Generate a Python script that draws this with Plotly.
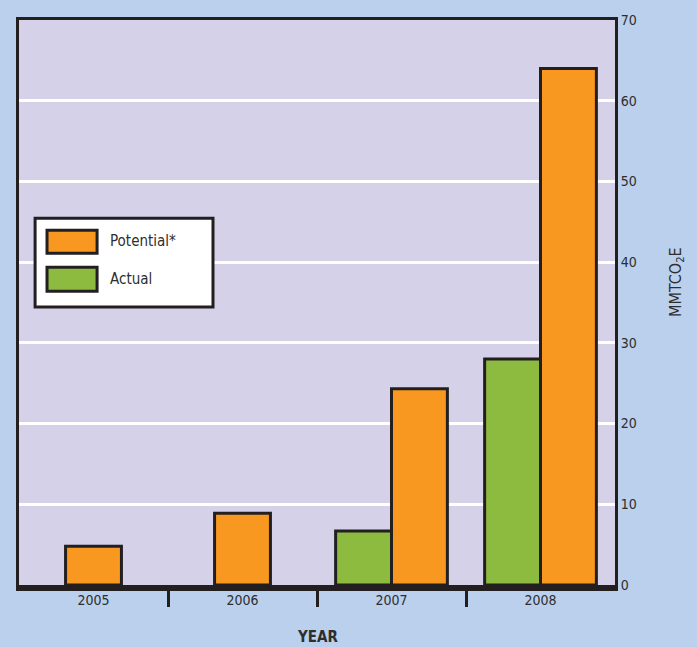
import plotly.graph_objects as go

years = ["2005", "2006", "2007", "2008"]
potential = [4.8, 8.9, 24.3, 64.0]
actual = [None, None, 6.7, 28.0]
series_names = ["Potential*", "Actual"]
y_ticks = [0, 10, 20, 30, 40, 50, 60, 70]

ORANGE = "#f89820"
GREEN = "#8dbb40"
DARK = "#231f20"
TXT = "#2e2e2e"
FONT = "DejaVu Sans Condensed, Liberation Sans Narrow, Arial Narrow, sans-serif"

W = 0.375
pot_off = [-W / 2 if a is None else 0 for a in actual]
act_off = [-W for a in actual]

fig = go.Figure()
fig.add_trace(go.Bar(x=years, y=potential, name=series_names[0], offset=pot_off, width=W,
                     marker=dict(color=ORANGE, line=dict(color=DARK, width=3)), showlegend=False))
fig.add_trace(go.Bar(x=years, y=actual, name=series_names[1], offset=act_off, width=W,
                     marker=dict(color=GREEN, line=dict(color=DARK, width=3)), showlegend=False))
# empty helper trace so the category-boundary axis is drawn
fig.add_trace(go.Scatter(x=[], y=[], xaxis="x2", yaxis="y", showlegend=False, hoverinfo="skip"))

# custom legend box
shapes = [
    dict(type="rect", xref="paper", yref="paper", x0=0.027, x1=0.3255, y0=0.492, y1=0.649,
         fillcolor="white", line=dict(color=DARK, width=3), layer="above"),
    dict(type="rect", xref="paper", yref="paper", x0=0.047, x1=0.131, y0=0.587, y1=0.628,
         fillcolor=ORANGE, line=dict(color=DARK, width=3), layer="above"),
    dict(type="rect", xref="paper", yref="paper", x0=0.047, x1=0.131, y0=0.520, y1=0.5626,
         fillcolor=GREEN, line=dict(color=DARK, width=3), layer="above"),
]
annotations = [
    dict(text=series_names[0], xref="paper", yref="paper", x=0.149, y=0.608, xanchor="left",
         yanchor="middle", showarrow=False, font=dict(family=FONT, size=15, color=TXT)),
    dict(text=series_names[1], xref="paper", yref="paper", x=0.149, y=0.541, xanchor="left",
         yanchor="middle", showarrow=False, font=dict(family=FONT, size=15, color=TXT)),
    dict(text="MMTCO<sub>2</sub>E", xref="paper", yref="paper", x=1.102, y=0.536, xanchor="center",
         yanchor="middle", textangle=-90, showarrow=False, font=dict(family=FONT, size=16, color=TXT)),
    dict(text="<b>YEAR</b>", xref="paper", yref="paper", x=0.5, y=-0.092, xanchor="center",
         yanchor="middle", showarrow=False, font=dict(family=FONT, size=15, color=TXT)),
]

fig.update_layout(
    width=697, height=647,
    margin=dict(l=19, r=82, t=18, b=62),
    paper_bgcolor="#bad0ed",
    plot_bgcolor="#d5d1e8",
    barmode="overlay",
    shapes=shapes,
    annotations=annotations,
    xaxis=dict(type="category", range=[-0.5, 3.5], showgrid=False, ticks="",
               showline=True, mirror=True, linecolor=DARK, linewidth=3,
               tickfont=dict(family=FONT, size=14, color=TXT)),
    xaxis2=dict(overlaying="x", anchor="y", side="bottom", range=[-0.5, 3.5],
                tickvals=[0.5, 1.5, 2.5], ticks="outside", ticklen=16, tickwidth=3,
                tickcolor=DARK, showticklabels=False, showgrid=False, zeroline=False,
                showline=True, linecolor=DARK, linewidth=6),
    yaxis=dict(side="right", range=[0, 70], tickvals=y_ticks, showgrid=True,
               gridcolor="white", gridwidth=3, zeroline=False,
               showline=True, mirror=True, linecolor=DARK, linewidth=3, ticks="",
               tickfont=dict(family=FONT, size=14, color=TXT)),
)

fig.write_html("out.html", config={"displayModeBar": False},
               post_script="document.body.style.margin='0';")
